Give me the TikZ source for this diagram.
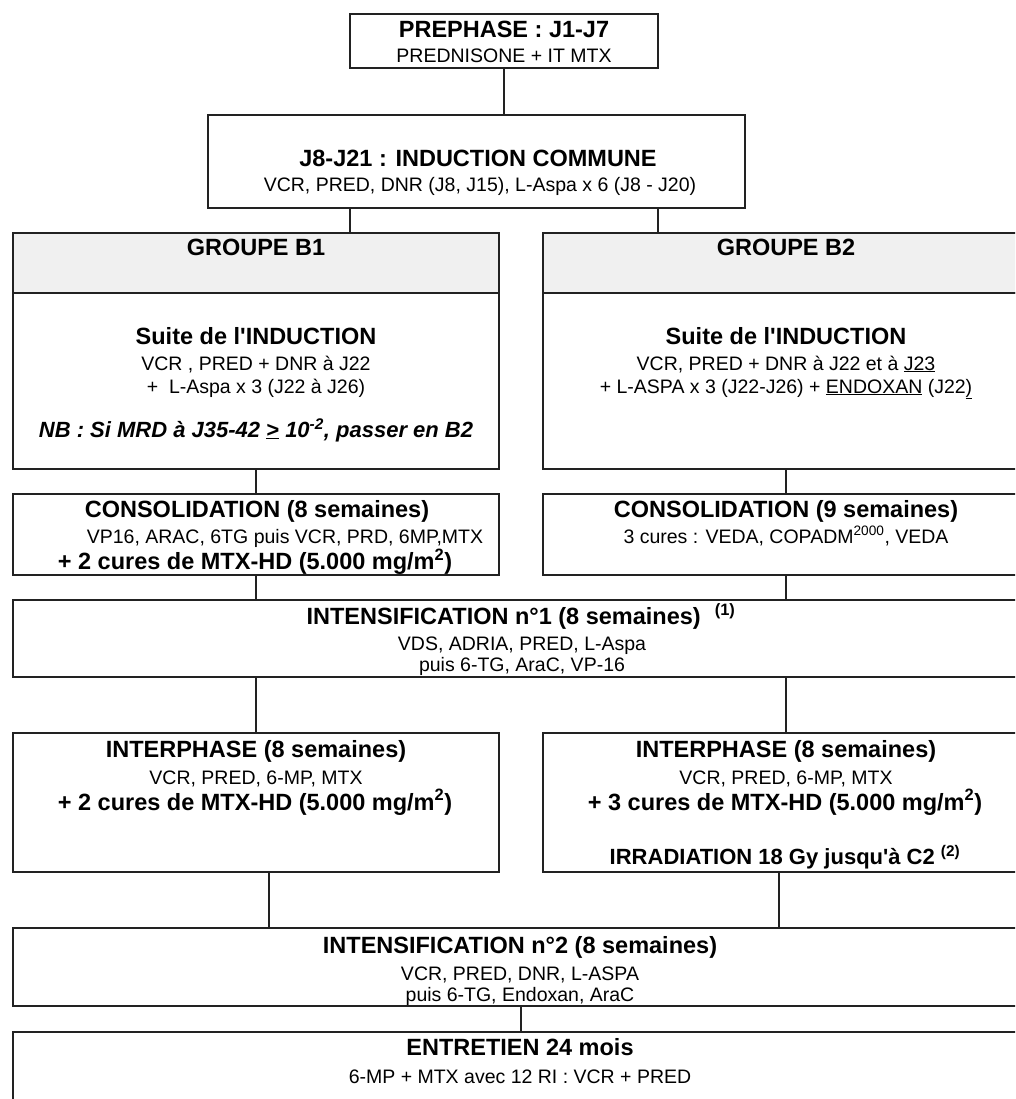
\documentclass[tikz,border=0pt]{standalone}
\usepackage{fontspec}
\setmainfont{Liberation Sans}
\definecolor{hdr}{HTML}{F0F0F0}
\definecolor{ln}{HTML}{222222}
\newcommand{\apos}{\textquotesingle}
\tikzset{
  box/.style={draw=ln, line width=1.6pt, rectangle, inner sep=0pt, outer sep=0pt},
  hbox/.style={box, fill=hdr},
  conn/.style={draw=ln, line width=1.6pt},
  ttl/.style={font=\fontsize{23.5}{28}\selectfont\bfseries, anchor=base, inner sep=0pt},
  sub/.style={font=\fontsize{19.5}{23}\selectfont, anchor=base, inner sep=0pt},
  nbt/.style={font=\fontsize{22}{26}\selectfont\bfseries\itshape, anchor=base, inner sep=0pt},
  irr/.style={font=\fontsize{22}{26}\selectfont\bfseries, anchor=base, inner sep=0pt},
}
\begin{document}
\begin{tikzpicture}[x=1pt,y=-1pt]
\useasboundingbox (0,0) rectangle (1015,1099);
\clip (0,0) rectangle (1015,1099);
\fill[white] (0,0) rectangle (1015,1099);

% boxes
\node[box, minimum width=308pt, minimum height=54pt] (prephase) at (504,41) {};
\node[box, minimum width=537pt, minimum height=93pt] (induction) at (476.5,161.5) {};
\node[hbox, minimum width=486pt, minimum height=60pt] (b1h) at (256,263) {};
\node[box, minimum width=486pt, minimum height=176pt] (b1) at (256,381) {};
\node[hbox, minimum width=486pt, minimum height=60pt] (b2h) at (786,263) {};
\node[box, minimum width=486pt, minimum height=176pt] (b2) at (786,381) {};
\node[box, minimum width=486pt, minimum height=81pt] (consL) at (256,534.5) {};
\node[box, minimum width=486pt, minimum height=81pt] (consR) at (786,534.5) {};
\node[box, minimum width=1016pt, minimum height=77pt] (intens1) at (521,638.5) {};
\node[box, minimum width=486pt, minimum height=139pt] (interL) at (256,802.5) {};
\node[box, minimum width=486pt, minimum height=139pt] (interR) at (786,802.5) {};
\node[box, minimum width=1016pt, minimum height=78pt] (intens2) at (521,967) {};
\node[box, minimum width=1016pt, minimum height=88pt] (entretien) at (521,1076) {};

% helper coordinates for connector x positions
\coordinate (xa) at (350,0);
\coordinate (xb) at (658,0);
\coordinate (xc) at (269,0);
\coordinate (xd) at (779,0);

% connectors
\draw[conn] (prephase.south) -- (prephase.south |- induction.north);
\draw[conn] (induction.south -| xa) -- (b1h.north -| xa);
\draw[conn] (induction.south -| xb) -- (b2h.north -| xb);
\draw[conn] (b1.south) -- (consL.north);
\draw[conn] (b2.south) -- (consR.north);
\draw[conn] (consL.south) -- (consL.south |- intens1.north);
\draw[conn] (consR.south) -- (consR.south |- intens1.north);
\draw[conn] (interL.north |- intens1.south) -- (interL.north);
\draw[conn] (interR.north |- intens1.south) -- (interR.north);
\draw[conn] (interL.south -| xc) -- (intens2.north -| xc);
\draw[conn] (interR.south -| xd) -- (intens2.north -| xd);
\draw[conn] (intens2.south) -- (entretien.north);

% texts
\node[ttl] (tp1) at (504,38) {PREPHASE : J1-J7};
\node[sub] (tp2) at (504,63) {PREDNISONE + IT MTX};

\node[ttl] (ti1) at (478,166.5) {J8-J21 : INDUCTION COMMUNE};
\node[sub] (ti2) at (480,192) {VCR, PRED, DNR (J8, J15), L-Aspa x 6 (J8 - J20)};

\node[ttl] (tb1a) at (256,255.5) {GROUPE B1};
\node[ttl] (tb1b) at (256,344.5) {Suite de l\apos INDUCTION};
\node[sub] (tb1c) at (256,370) {VCR , PRED + DNR à J22};
\node[sub] (tb1d) at (256,393) {+\ \ L-Aspa x 3 (J22 à J26)};
\node[nbt] (tb1e) at (256,437) {NB : Si MRD à J35-42 \underline{>} 10\textsuperscript{-2}, passer en B2};

\node[ttl] (tb2a) at (786,255.5) {GROUPE B2};
\node[ttl] (tb2b) at (786,344.5) {Suite de l\apos INDUCTION};
\node[sub] (tb2c) at (786,370) {VCR, PRED + DNR à J22 et à \underline{J23}};
\node[sub] (tb2d) at (786,393) {+ L-ASPA x 3 (J22-J26) + \underline{ENDOXAN} (J22\underline{)}};

\node[ttl] (tc1a) at (257,517.5) {CONSOLIDATION (8 semaines)};
\node[sub] (tc1b) at (285,543.5) {VP16, ARAC, 6TG puis VCR, PRD, 6MP,MTX};
\node[ttl] (tc1c) at (255,569.5) {+ 2 cures de MTX-HD (5.000 mg/m\textsuperscript{2})};

\node[ttl] (tc2a) at (786,517.5) {CONSOLIDATION (9 semaines)};
\node[sub] (tc2b) at (786,543) {3 cures : VEDA, COPADM\textsuperscript{2000}, VEDA};

\node[ttl] (tn1a) at (521,624.5) {INTENSIFICATION n°1 (8 semaines)\hspace{14pt}\textsuperscript{(1)}};
\node[sub] (tn1b) at (522,650) {VDS, ADRIA, PRED, L-Aspa};
\node[sub] (tn1c) at (522,671) {puis 6-TG, AraC, VP-16};

\node[ttl] (tl1a) at (256,757) {INTERPHASE (8 semaines)};
\node[sub] (tl1b) at (256,784) {VCR, PRED, 6-MP, MTX};
\node[ttl] (tl1c) at (255,810) {+ 2 cures de MTX-HD (5.000 mg/m\textsuperscript{2})};

\node[ttl] (tl2a) at (786,757) {INTERPHASE (8 semaines)};
\node[sub] (tl2b) at (786,784) {VCR, PRED, 6-MP, MTX};
\node[ttl] (tl2c) at (785,810) {+ 3 cures de MTX-HD (5.000 mg/m\textsuperscript{2})};
\node[irr] (tl2d) at (785,864) {IRRADIATION 18 Gy jusqu\apos à C2 \textsuperscript{(2)}};

\node[ttl] (tn2a) at (520,953.5) {INTENSIFICATION n°2 (8 semaines)};
\node[sub] (tn2b) at (520,980) {VCR, PRED, DNR, L-ASPA};
\node[sub] (tn2c) at (520,1001) {puis 6-TG, Endoxan, AraC};

\node[ttl] (te1) at (520,1055.5) {ENTRETIEN 24 mois};
\node[sub] (te2) at (520,1083) {6-MP + MTX avec 12 RI : VCR + PRED};
\end{tikzpicture}
\end{document}
